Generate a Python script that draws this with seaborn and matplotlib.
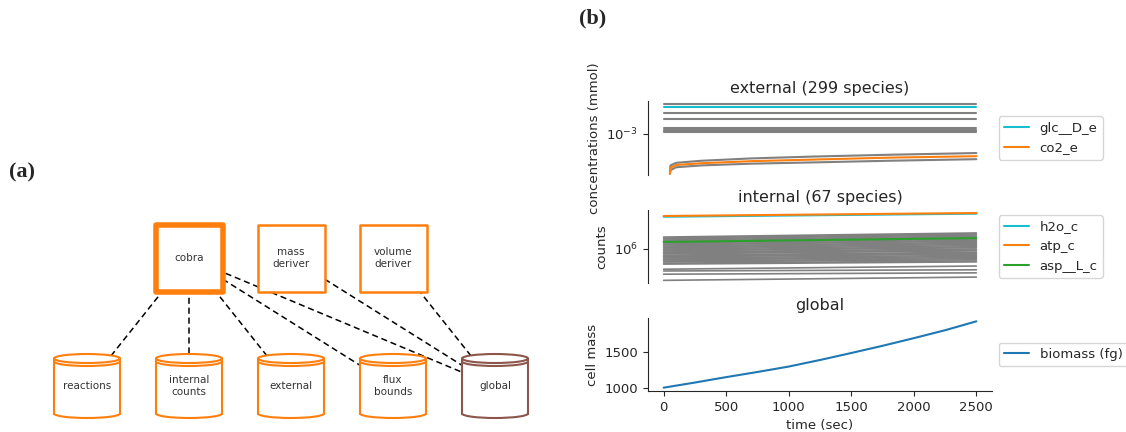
import numpy as np
import pandas as pd
import matplotlib
matplotlib.use("Agg")
import matplotlib.pyplot as plt
import seaborn as sns
from matplotlib.patches import Rectangle, Ellipse, Arc
from matplotlib.ticker import NullLocator

# ---- (a) composite diagram
processes = ["cobra", "mass\nderiver", "volume\nderiver"]
stores = ["reactions", "internal\ncounts", "external", "flux\nbounds", "global"]
edges = [("cobra", "reactions"), ("cobra", "internal\ncounts"), ("cobra", "external"),
         ("cobra", "flux\nbounds"), ("cobra", "global"),
         ("mass\nderiver", "global"), ("volume\nderiver", "global")]

# ---- (b) simulation output
t_flat = [0, 2500]
ext_gray_flat = [2.0e-3, 1.62e-3, 1.41e-3, 1.148e-3, 1.109e-3, 1.072e-3, 1.047e-3]
glc_D_e = [1.86e-3, 1.86e-3]
t_curve = [50, 55, 100, 300, 700, 1200, 1800, 2500]
co2_e = [4.0e-4, 4.6e-4, 4.9e-4, 5.1e-4, 5.35e-4, 5.55e-4, 5.8e-4, 6.0e-4]
ext_gray_hi = [4.2e-4, 4.85e-4, 5.15e-4, 5.4e-4, 5.7e-4, 5.95e-4, 6.2e-4, 6.45e-4]
ext_gray_lo = [4.0e-4, 4.35e-4, 4.65e-4, 4.85e-4, 5.05e-4, 5.2e-4, 5.4e-4, 5.6e-4]

int_gray_start = [1.58, 1.52, 1.47, 1.41, 1.36, 1.26, 1.21, 1.17, 1.12, 1.08, 1.04, 1.00,
                  0.96, 0.93, 0.89, 0.86, 0.83, 0.79, 0.76, 0.74, 0.71, 0.68, 0.66, 0.63,
                  0.61, 0.58, 0.56, 0.46, 0.43, 0.38, 0.30]
int_gray_end = [1.85, 1.78, 1.71, 1.64, 1.58, 1.46, 1.40, 1.35, 1.29, 1.24, 1.19, 1.14,
                1.09, 1.05, 1.00, 0.96, 0.93, 0.88, 0.85, 0.82, 0.78, 0.75, 0.72, 0.69,
                0.66, 0.63, 0.61, 0.52, 0.45, 0.40, 0.34]
h2o_c = [3.45e6, 3.88e6]
atp_c = [3.55e6, 3.98e6]
asp__L_c = [1.31e6, 1.52e6]

t_bio = [0, 250, 500, 750, 1000, 1250, 1500, 1750, 2000, 2250, 2500]
biomass = [1000, 1072, 1148, 1220, 1296, 1388, 1486, 1587, 1694, 1805, 1930]

sns.set_style("ticks")
plt.rcParams["font.size"] = 9.5
plt.rcParams["axes.titlesize"] = 11.5
plt.rcParams["legend.fontsize"] = 9.5

ORANGE, BROWN = "#ff7f0e", "#8c564b"
CYAN, GREEN, BLUE = "#17becf", "#2ca02c", "#1f77b4"

fig = plt.figure(figsize=(11.26, 4.32), dpi=100)

# diagram axes, one data unit = one pixel
axd = fig.add_axes([0, 0, 0.5, 1])
axd.set_xlim(0, 563)
axd.set_ylim(432, 0)
axd.axis("off")

pos = {}
for i, p in enumerate(processes):
    pos[p] = (189 + 102 * i, 258)
for i, s in enumerate(stores):
    pos[s] = (87 + 102 * i, 386)

for a, b in edges:
    (x0, y0), (x1, y1) = pos[a], pos[b]
    axd.plot([x0, x1], [y0, y1], color="black", lw=1.1, ls=(0, (4, 2.5)), zorder=1)

for p in processes:
    cx, cy = pos[p]
    lw = 4 if p == "cobra" else 1.8
    axd.add_patch(Rectangle((cx - 33.5, cy - 33.5), 67, 67, fc="white", ec=ORANGE,
                            lw=lw, joinstyle="round", zorder=3))
    axd.text(cx, cy, p, ha="center", va="center", fontsize=7.5, color="#333333", zorder=4)

for s in stores:
    cx, cy = pos[s]
    col = BROWN if s == "global" else ORANGE
    w, h = 66, 9
    ytop, ybot = 358.5, 413.5
    axd.add_patch(Rectangle((cx - w / 2, ytop), w, ybot - ytop, fc="white", ec="none", zorder=2))
    axd.add_patch(Ellipse((cx, ytop), w, h, fc="white", ec="none", zorder=2))
    axd.add_patch(Ellipse((cx, ybot), w, h, fc="white", ec="none", zorder=2))
    axd.add_patch(Ellipse((cx, ytop), w, h, fc="none", ec=col, lw=1.5, zorder=3))
    axd.add_patch(Arc((cx, ytop + 3), w, h, theta1=0, theta2=180, ec=col, lw=1.5, zorder=3))
    axd.add_patch(Arc((cx, ybot), w, h, theta1=0, theta2=180, ec=col, lw=1.5, zorder=3))
    axd.plot([cx - w / 2, cx - w / 2], [ytop, ybot], color=col, lw=1.5, zorder=3)
    axd.plot([cx + w / 2, cx + w / 2], [ytop, ybot], color=col, lw=1.5, zorder=3)
    axd.text(cx, cy, s, ha="center", va="center", fontsize=7.5, color="#333333", zorder=4)

fig.text(22 / 1126, 1 - 172 / 432, "(a)", family="Liberation Serif", weight="bold",
         fontsize=16, ha="center", va="center")
fig.text(593 / 1126, 1 - 18 / 432, "(b)", family="Liberation Serif", weight="bold",
         fontsize=16, ha="center", va="center")

# time series axes
L, W = 648 / 1126, 344 / 1126
ax3 = fig.add_axes([L, 1 - 391 / 432, W, 73 / 432])
ax1 = fig.add_axes([L, 1 - 175 / 432, W, 74 / 432], sharex=ax3)
ax2 = fig.add_axes([L, 1 - 283 / 432, W, 73 / 432], sharex=ax3)

# external
ext_rows = []
for k, v in enumerate(ext_gray_flat):
    for t in t_flat:
        ext_rows.append({"time": t, "value": v, "species": f"flat{k}"})
for name, vals in [("hi", ext_gray_hi), ("lo", ext_gray_lo)]:
    for t, v in zip(t_curve, vals):
        ext_rows.append({"time": t, "value": v, "species": name})
ext_df = pd.DataFrame(ext_rows)
sns.lineplot(data=ext_df, x="time", y="value", units="species", estimator=None,
             color="gray", lw=1.5, ax=ax1, legend=False)
sns.lineplot(x=t_flat, y=glc_D_e, color=CYAN, lw=1.5, label="glc__D_e", ax=ax1)
sns.lineplot(x=t_curve, y=co2_e, color=ORANGE, lw=1.5, label="co2_e", ax=ax1)
ax1.set_yscale("log")
ax1.set_ylim(10 ** -3.41, 10 ** -2.67)
ax1.set_title("external (299 species)")
ax1.set_ylabel("concentrations (mmol)")

# internal
int_rows = []
for k, (a, b) in enumerate(zip(int_gray_start, int_gray_end)):
    int_rows.append({"time": t_flat[0], "value": a * 1e6, "species": f"s{k}"})
    int_rows.append({"time": t_flat[1], "value": b * 1e6, "species": f"s{k}"})
int_df = pd.DataFrame(int_rows)
sns.lineplot(data=int_df, x="time", y="value", units="species", estimator=None,
             color="gray", lw=1.2, ax=ax2, legend=False)
sns.lineplot(x=t_flat, y=h2o_c, color=CYAN, lw=1.5, label="h2o_c", ax=ax2)
sns.lineplot(x=t_flat, y=atp_c, color=ORANGE, lw=1.5, label="atp_c", ax=ax2)
sns.lineplot(x=t_flat, y=asp__L_c, color=GREEN, lw=1.5, label="asp__L_c", ax=ax2)
ax2.set_yscale("log")
ax2.set_ylim(10 ** 5.433, 10 ** 6.65)
ax2.set_title("internal (67 species)")
ax2.set_ylabel("counts")

# global
sns.lineplot(x=t_bio, y=biomass, color=BLUE, lw=1.5, label="biomass (fg)", ax=ax3)
ax3.set_title("global")
ax3.set_ylabel("cell mass")
ax3.set_xlabel("time (sec)")
ax3.set_yticks([1000, 1500])

for ax in (ax1, ax2):
    ax.yaxis.set_minor_locator(NullLocator())
    ax.tick_params(axis="x", bottom=False, labelbottom=False)
    ax.set_xlabel("")
for ax in (ax1, ax2, ax3):
    sns.despine(ax=ax)
    ax.legend(loc="center left", bbox_to_anchor=(1.0, 0.5), handlelength=1.9)
ax1.spines["bottom"].set_visible(False)
ax2.spines["bottom"].set_visible(False)

fig.savefig("out.png", dpi=100)
